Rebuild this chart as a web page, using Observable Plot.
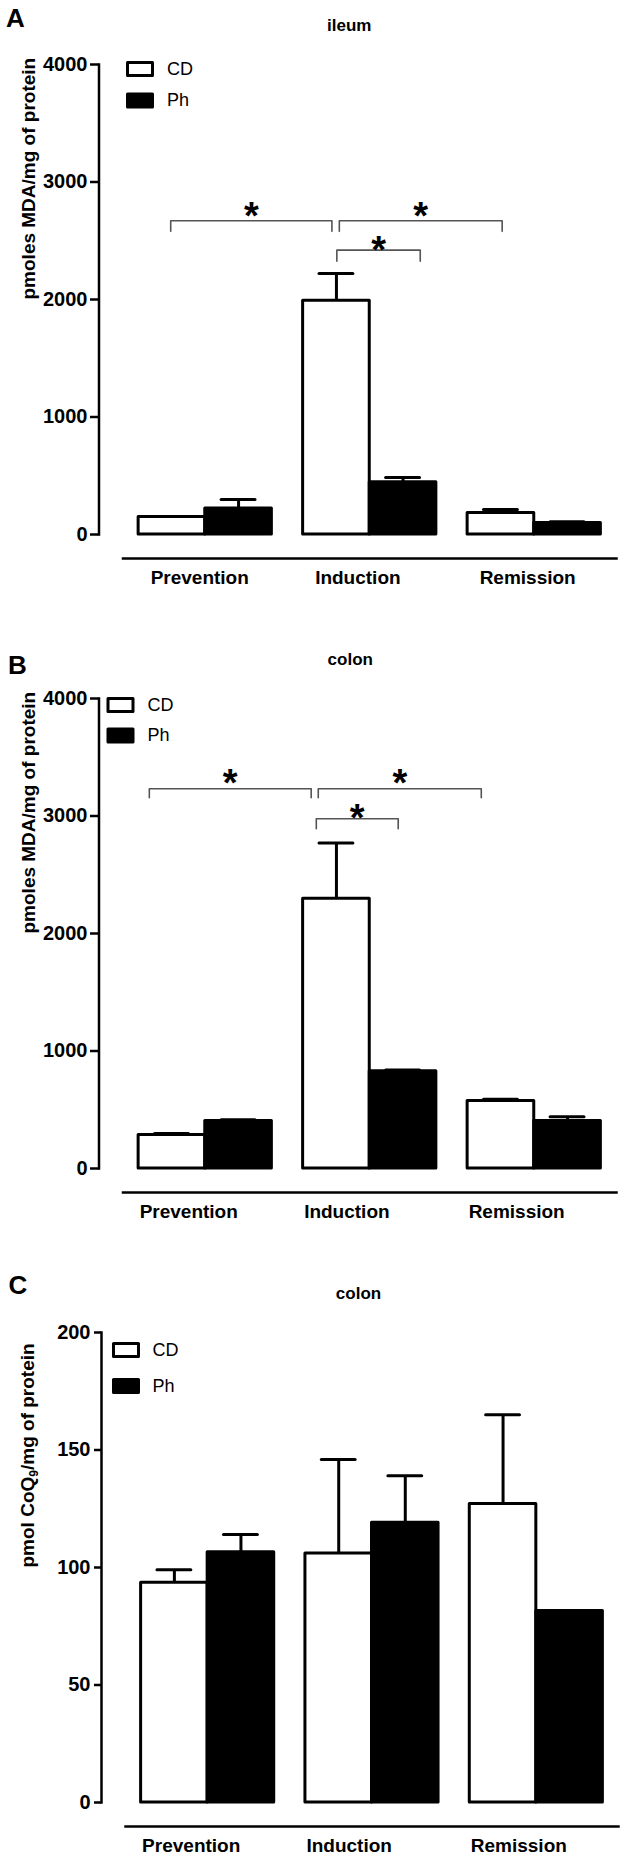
<!DOCTYPE html>
<html><head><meta charset="utf-8">
<script src="https://cdn.jsdelivr.net/npm/d3@7"></script>
<script src="https://cdn.jsdelivr.net/npm/@observablehq/plot@0.6"></script>
<style>
  body { margin: 0; background: #fff; }
  #chart svg { display: block; }
</style>
</head><body><div id="chart"></div>
<script>
// ---------- data ----------
const groups = ["Prevention", "Induction", "Remission"];
const series = ["CD", "Ph"];

// A: ileum, pmoles MDA/mg of protein
const ileumCD    = [148, 1990, 182];
const ileumCDerr = [6, 231, 30];
const ileumPh    = [222, 445, 97];
const ileumPherr = [76, 40, 12];

// B: colon, pmoles MDA/mg of protein
const colonCD    = [285, 2295, 575];
const colonCDerr = [12, 475, 15];
const colonPh    = [405, 828, 405];
const colonPherr = [10, 10, 35];

// C: colon, pmol CoQ9/mg of protein
const coqCD    = [93.5, 106, 127];
const coqCDerr = [5.5, 40, 38];
const coqPh    = [106.5, 119, 81.5];
const coqPherr = [7.5, 20, 0];

const mdaTicks = [0, 1000, 2000, 3000, 4000];
const coqTicks = [0, 50, 100, 150, 200];

// significance brackets (x in group-index units, y in data units)
const ileumSigX1   = [-0.21, 0.815, 0.80];
const ileumSigX2   = [0.77, 1.805, 1.307];
const ileumSigY    = [2670, 2670, 2420];
const ileumSigLeg  = [2580, 2580, 2325];
const ileumSigStar = [2791, 2791, 2494];

const colonSigX1   = [-0.34, 0.687, 0.675];
const colonSigX2   = [0.644, 1.678, 1.173];
const colonSigY    = [3232, 3232, 2977];
const colonSigLeg  = [3156, 3156, 2891];
const colonSigStar = [3360, 3360, 3062];

// ---------- drawing ----------
const FONT = "'Liberation Sans', Arial, Helvetica, sans-serif";
const HALF = 0.405;   // half of a group's width, in group-index units
const CAP = 0.103;    // half width of the error-bar caps

const boxSymbol = {draw(ctx) { ctx.rect(-12.5, -6.5, 25, 13); }};

function rowsOf(cd, cdErr, ph, phErr) {
  const vals = {CD: cd, Ph: ph}, errs = {CD: cdErr, Ph: phErr};
  return groups.flatMap((g, i) => series.map((s) => ({
    group: g, series: s, gi: i, value: vals[s][i], err: errs[s][i]
  })));
}
const bx1 = d => d.gi + (d.series === "CD" ? -HALF : 0);
const bx2 = d => d.gi + (d.series === "CD" ? 0 : HALF);
const bcx = d => d.gi + (d.series === "CD" ? -HALF / 2 : HALF / 2);

function panel(o) {
  const rows = rowsOf(...o.values);
  const withErr = rows.filter(d => d.err > 0);
  const marks = [
    Plot.frame({anchor: "left", strokeWidth: 2.5}),
    Plot.frame({anchor: "bottom", insetLeft: 24, insetBottom: -24, strokeWidth: 2.5}),
    Plot.axisY({ticks: o.ticks, tickFormat: "d", tickSize: o.tickSize, tickPadding: o.tickPadding,
      label: null, strokeWidth: 2.5, fontSize: 20}),
    Plot.axisX({ticks: groups.map((g, i) => i - HALF), tickFormat: t => groups[Math.round(t + HALF)],
      tickSize: 0, tickPadding: 36, label: null, textAnchor: "start", dx: o.labelDx, fontSize: 19}),
    Plot.ruleX(withErr, {x: bcx, y1: "value", y2: d => d.value + d.err, strokeWidth: 3}),
    Plot.rectY(rows.filter(d => d.series === "CD"), {x1: bx1, x2: bx2, y: "value",
      fill: "white", stroke: "black", strokeWidth: 3, strokeLinejoin: "round"}),
    Plot.rectY(rows.filter(d => d.series === "Ph"), {x1: bx1, x2: bx2, y: "value",
      fill: "black", stroke: "black", strokeWidth: 3, strokeLinejoin: "round"}),
    Plot.ruleY(withErr, {y: d => d.value + d.err, x1: d => bcx(d) - CAP, x2: d => bcx(d) + CAP,
      strokeWidth: 3, strokeLinecap: "round"}),
    // legend
    Plot.dot([0], {frameAnchor: "top-left", symbol: boxSymbol, fill: "white", stroke: "black",
      strokeWidth: 3, strokeLinejoin: "round", dx: o.legDx, dy: o.legDy}),
    Plot.dot([0], {frameAnchor: "top-left", symbol: boxSymbol, fill: "black", stroke: "black",
      strokeWidth: 3, strokeLinejoin: "round", dx: o.legDx, dy: o.legDy + o.legGap}),
    Plot.text([series[0]], {frameAnchor: "top-left", text: d => d, textAnchor: "start", lineAnchor: "middle",
      dx: o.legTextDx, dy: o.legDy, fontSize: 18, fontWeight: "normal"}),
    Plot.text([series[1]], {frameAnchor: "top-left", text: d => d, textAnchor: "start", lineAnchor: "middle",
      dx: o.legTextDx, dy: o.legDy + o.legGap, fontSize: 18, fontWeight: "normal"}),
    // panel letter, title, y label
    Plot.text([o.letter], {frameAnchor: "top-left", text: d => d, textAnchor: "start", lineAnchor: "top",
      dx: o.letterDx, dy: o.letterDy, fontSize: 26}),
    Plot.text([o.title], {frameAnchor: "top", text: d => d, lineAnchor: "top",
      dx: o.titleDx, dy: -46, fontSize: 17}),
    Plot.text([o.ylabel], {frameAnchor: "left", text: d => d, rotate: -90, lineAnchor: "bottom",
      dx: o.ylabelDx, fontSize: 19})
  ];
  if (o.sig) {
    const [x1s, x2s, ys, legs, stars] = o.sig;
    const br = x1s.map((x1, k) => ({k, x1, x2: x2s[k], y: ys[k], leg: legs[k], star: stars[k]}));
    const pts = br.flatMap(d => [
      {k: d.k, x: d.x1, y: d.leg}, {k: d.k, x: d.x1, y: d.y},
      {k: d.k, x: d.x2, y: d.y}, {k: d.k, x: d.x2, y: d.leg}
    ]);
    marks.push(
      Plot.line(pts, {x: "x", y: "y", z: "k", stroke: "#555", strokeWidth: 1.6}),
      Plot.text(br, {x: d => (d.x1 + d.x2) / 2, y: "star", text: () => "*", lineAnchor: "bottom",
        dy: 0.58 * 38, fontSize: 38})
    );
  }
  const svg = Plot.plot({
    width: 624, height: o.height,
    marginTop: 64, marginBottom: o.height - 534, marginLeft: o.ml, marginRight: o.mr,
    x: {domain: [-0.5, 2.5], insetLeft: 24},
    y: {domain: o.domain},
    style: {fontFamily: FONT, fontSize: "19px", fontWeight: "bold", color: "black", background: "white"},
    marks
  });
  if (o.sub) {
    const t = [...svg.querySelectorAll("text")].find(e => e.textContent === o.ylabel);
    if (t) {
      const [a, b] = o.ylabel.split(o.sub);
      t.textContent = "";
      const NS = "http://www.w3.org/2000/svg";
      const t1 = document.createElementNS(NS, "tspan"); t1.textContent = a + o.sub.slice(0, -1);
      const t2 = document.createElementNS(NS, "tspan"); t2.textContent = o.sub.slice(-1);
      t2.setAttribute("dy", "4"); t2.setAttribute("font-size", "12");
      const t3 = document.createElementNS(NS, "tspan"); t3.textContent = b; t3.setAttribute("dy", "-4");
      t.append(t1, t2, t3);
    }
  }
  return svg;
}

const chart = document.getElementById("chart");
chart.append(
  panel({letter: "A", title: "ileum", ylabel: "pmoles MDA/mg of protein",
    values: [ileumCD, ileumCDerr, ileumPh, ileumPherr], domain: [0, 4000], ticks: mdaTicks,
    height: 634, ml: 98.5, mr: 8, tickSize: 8.5, tickPadding: 3, labelDx: 12,
    legDx: 41, legDy: 4.5, legGap: 31.5, legTextDx: 68, letterDx: -93, letterDy: -56,
    titleDx: -8.5, ylabelDx: -64.5,
    sig: [ileumSigX1, ileumSigX2, ileumSigY, ileumSigLeg, ileumSigStar]}),
  panel({letter: "B", title: "colon", ylabel: "pmoles MDA/mg of protein",
    values: [colonCD, colonCDerr, colonPh, colonPherr], domain: [0, 4000], ticks: mdaTicks,
    height: 634, ml: 98.5, mr: 8, tickSize: 8.5, tickPadding: 3, labelDx: 1,
    legDx: 21.5, legDy: 6.5, legGap: 30.5, legTextDx: 48.5, letterDx: -91, letterDy: -43,
    titleDx: -7.5, ylabelDx: -64.5,
    sig: [colonSigX1, colonSigX2, colonSigY, colonSigLeg, colonSigStar]}),
  panel({letter: "C", title: "colon", ylabel: "pmol CoQ9/mg of protein", sub: "CoQ9",
    values: [coqCD, coqCDerr, coqPh, coqPherr], domain: [0, 200], ticks: coqTicks,
    height: 590, ml: 101, mr: 6, tickSize: 7, tickPadding: 4, labelDx: 1,
    legDx: 24.5, legDy: 17.5, legGap: 36, legTextDx: 51, letterDx: -93, letterDy: -57,
    titleDx: -1.5, ylabelDx: -67.5})
);
</script>
</body></html>
